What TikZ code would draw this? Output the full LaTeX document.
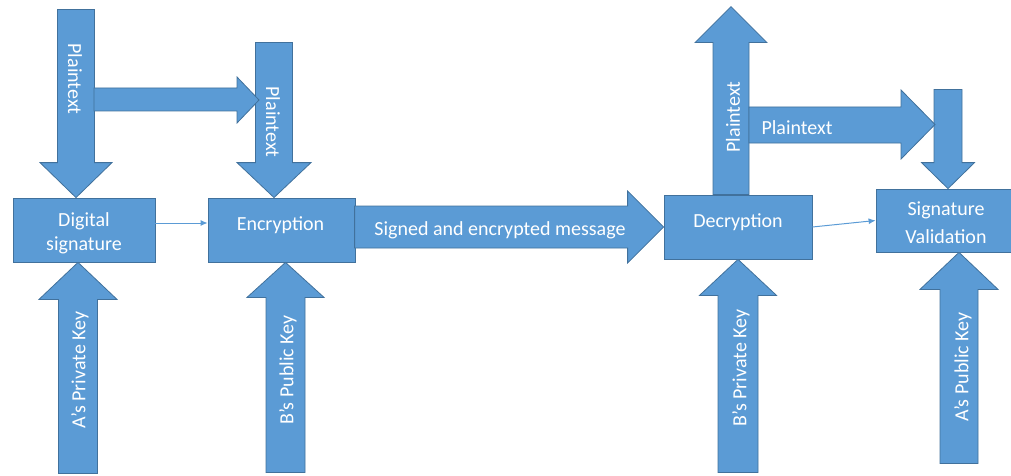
\documentclass[tikz,border=0pt]{standalone}
\usepackage{fontspec}
\setmainfont{Carlito}
\usetikzlibrary{arrows.meta}
\definecolor{officeblue}{RGB}{91,155,213}
\definecolor{officeedge}{RGB}{65,113,156}
\tikzset{
  procbox/.style={rectangle, fill=officeblue, draw=officeedge, line width=0.8pt, minimum height=64pt, inner sep=0pt},
  blockarrow/.style={fill=officeblue, draw=officeedge, line width=0.8pt, line join=miter},
  thinarrow/.style={officeblue, line width=1pt, -{Latex[length=7pt,width=6pt]}},
  lbl/.style={text=white, font=\fontsize{20}{24}\selectfont, align=center, inner sep=0pt},
}
\begin{document}
\begin{tikzpicture}[x=1pt, y=-1pt]
    \useasboundingbox (0,0) rectangle (1011,476);

    % Boxen
    \node[procbox, minimum width=142pt] (sig) at (84,230) {};
    \node[procbox, minimum width=147pt] (enc) at (281.5,230) {};
    \node[procbox, minimum width=148pt] (dec) at (738,227) {};
    \node[procbox, minimum width=135pt, minimum height=63pt] (val) at (943.5,220.5) {};

    % Klartext in die Signatur und die Verschluesselung
    \draw[blockarrow] ([xshift=-8pt]sig.north) -- ++(36,-35) -- ++(-17.5,0) -- ++(0,-153) -- ++(-37,0) -- ++(0,153) -- ++(-17.5,0) -- cycle;
    \draw[blockarrow] ([xshift=-7.5pt]enc.north) -- ++(37,-35) -- ++(-18.5,0) -- ++(0,-120) -- ++(-37,0) -- ++(0,120) -- ++(-18.5,0) -- cycle;
    \draw[blockarrow] (94,88) -- (237,88) -- (237,77) -- (259,100) -- (237,123) -- (237,111) -- (94,111) -- cycle;

    % Schluessel von unten
    \draw[blockarrow] ([xshift=-6pt]sig.south) -- ++(39,37) -- ++(-19.5,0) -- ++(0,174) -- ++(-39,0) -- ++(0,-174) -- ++(-19.5,0) -- cycle;
    \draw[blockarrow] ([xshift=4pt]enc.south) -- ++(38.5,35) -- ++(-19,0) -- ++(0,175) -- ++(-39,0) -- ++(0,-175) -- ++(-19,0) -- cycle;
    \draw[blockarrow] (dec.south) -- ++(38.5,36) -- ++(-18.5,0) -- ++(0,177) -- ++(-40,0) -- ++(0,-177) -- ++(-18.5,0) -- cycle;
    \draw[blockarrow] ([xshift=15.5pt]val.south) -- ++(39,37) -- ++(-20,0) -- ++(0,174) -- ++(-38,0) -- ++(0,-174) -- ++(-20,0) -- cycle;

    % Nachricht
    \draw[blockarrow] (dec.west) -- ++(-36,-36) -- ++(0,15) -- ++(-273,0) -- ++(0,42) -- ++(273,0) -- ++(0,15) -- cycle;

    % Klartext aus der Entschluesselung
    \draw[blockarrow] ([xshift=-25pt]dec.north) -- ++(0,-152) -- ++(-18,0) -- ++(36,-36) -- ++(36,36) -- ++(-18,0) -- ++(0,152) -- cycle;
    \draw[blockarrow] ([xshift=4.5pt]val.north) -- ++(26.5,-26) -- ++(-12.5,0) -- ++(0,-73) -- ++(-28,0) -- ++(0,73) -- ++(-12.5,0) -- cycle;
    \draw[blockarrow] (749,107) -- (901,107) -- (901,90) -- (935,124.5) -- (901,159) -- (901,143) -- (749,143) -- cycle;

    % duenne Pfeile
    \draw[thinarrow] ([yshift=7pt]sig.east) -- ([yshift=7pt]enc.west);
    \draw[thinarrow] (dec.east) -- (val.west);

    % Beschriftung
    \node[lbl] (sigtext) at (84,233.5) {Digital\\signature};
    \node[lbl] (enctext) at (280.5,225.5) {Encryption};
    \node[lbl] (dectext) at (738,222.5) {Decryption};
    \node[lbl] (valtext) at (946,222.5) {Signature\\[4pt]Validation};
    \node[lbl] (msgtext) at (500,230) {Signed and encrypted message};

    \node[lbl, rotate=-90] (pt1text) at (75,79) {Plaintext};
    \node[lbl, rotate=-90] (pt2text) at (273,122) {Plaintext};
    \node[lbl, rotate=90] (pt3text) at (733,117) {Plaintext};
    \node[lbl] (pt4text) at (797,128) {Plaintext};

    \node[lbl, rotate=90] (akey1) at (80,370) {A’s Private Key};
    \node[lbl, rotate=90] (bkey1) at (288,370) {B’s Public Key};
    \node[lbl, rotate=90] (bkey2) at (741,368) {B’s Private Key};
    \node[lbl, rotate=90] (akey2) at (963,367) {A’s Public Key};
\end{tikzpicture}
\end{document}
